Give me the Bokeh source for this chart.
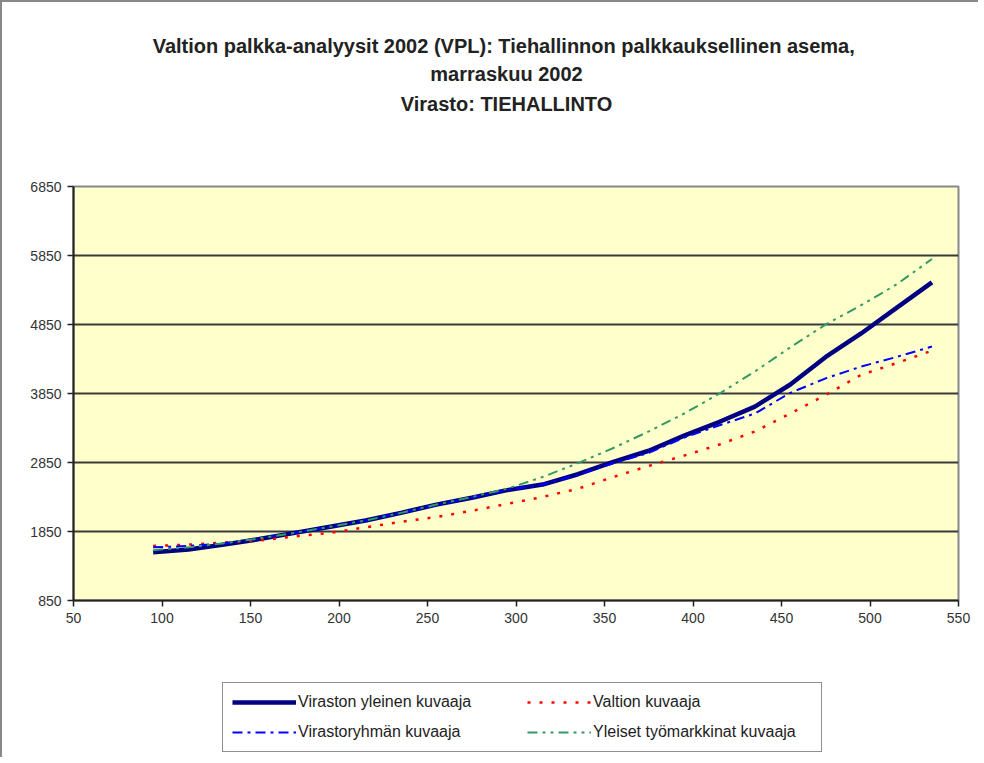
from bokeh.plotting import figure
from bokeh.models import Range1d, FixedTicker, Legend, LegendItem, Label
from bokeh.layouts import column
from bokeh.embed import file_html
from bokeh.resources import INLINE

# ---- data ----
x_vals = [95, 115, 135, 155, 175, 195, 215, 235, 255, 275, 295, 315,
          335, 355, 375, 395, 415, 435, 455, 475, 495, 515, 535]
viraston = [1550, 1590, 1660, 1740, 1830, 1920, 2010, 2120, 2240, 2340, 2450, 2530,
            2680, 2860, 3020, 3240, 3440, 3660, 3980, 4380, 4720, 5090, 5460]
valtion = [1640, 1660, 1690, 1720, 1780, 1830, 1910, 1990, 2060, 2150, 2250, 2350,
           2470, 2640, 2800, 2950, 3110, 3300, 3560, 3830, 4120, 4290, 4470]
virastoryhma = [1620, 1640, 1680, 1750, 1830, 1920, 2010, 2120, 2230, 2340, 2450, 2530,
                2670, 2840, 2990, 3210, 3390, 3560, 3860, 4070, 4240, 4380, 4530]
yleiset = [1580, 1620, 1680, 1750, 1830, 1920, 2010, 2120, 2240, 2350, 2470, 2640,
           2840, 3060, 3300, 3560, 3850, 4170, 4520, 4850, 5130, 5430, 5800]

x_ticks = [50, 100, 150, 200, 250, 300, 350, 400, 450, 500, 550]
y_ticks = [850, 1850, 2850, 3850, 4850, 5850, 6850]

title_lines = ["Valtion palkka-analyysit 2002 (VPL): Tiehallinnon  palkkauksellinen asema,",
               "marraskuu 2002",
               "Virasto: TIEHALLINTO"]
series_names = ["Viraston yleinen kuvaaja", "Valtion kuvaaja",
                "Virastoryhmän kuvaaja", "Yleiset työmarkkinat kuvaaja"]

FONT = "Liberation Sans"
W = 976

styles = {"navy": dict(line_color="#000080", line_width=4.5),
          "red": dict(line_color="#FF0000", line_width=2.5, line_dash="3 9"),
          "blue": dict(line_color="#0000FF", line_width=2, line_dash="10 5 3 5"),
          "green": dict(line_color="#339966", line_width=2, line_dash="10 5 3 5 3 5")}


def blank_fig(height, xr=(0, 1), yr=(0, 1)):
    f = figure(width=W, height=height, output_backend="svg", toolbar_location=None,
               x_range=Range1d(*xr), y_range=Range1d(*yr),
               x_axis_location=None, y_axis_location=None,
               min_border_left=71, min_border_right=20, min_border_top=0,
               min_border_bottom=0)
    f.xgrid.grid_line_color = None
    f.ygrid.grid_line_color = None
    f.outline_line_color = None
    f.background_fill_color = "white"
    f.border_fill_color = "white"
    return f


# ---- title area ----
pt = blank_fig(174)
for txt, yy in zip(title_lines, [131, 103, 73]):
    pt.add_layout(Label(x=433, y=yy, x_units="screen", y_units="screen", text=txt,
                        text_align="center", text_baseline="middle",
                        text_font=FONT, text_font_style="bold",
                        text_font_size="20px", text_color="#222222"))

# ---- main chart ----
p = figure(width=W, height=466, output_backend="svg", toolbar_location=None,
           x_range=Range1d(50, 550), y_range=Range1d(850, 6850),
           min_border_left=71, min_border_right=20, min_border_top=10,
           min_border_bottom=42)
p.background_fill_color = "#FFFFCC"
p.border_fill_color = "white"
p.outline_line_color = "#888888"
p.outline_line_width = 2

p.xgrid.grid_line_color = None
p.ygrid.grid_line_color = "#3a3a3a"
p.ygrid.grid_line_width = 2

p.xaxis.ticker = FixedTicker(ticks=x_ticks)
p.yaxis.ticker = FixedTicker(ticks=y_ticks)
for ax in (p.xaxis[0], p.yaxis[0]):
    ax.axis_line_color = "#222222"
    ax.axis_line_width = 2
    ax.major_tick_line_color = "#222222"
    ax.major_tick_line_width = 1.5
    ax.major_tick_out = 6
    ax.major_tick_in = 0
    ax.minor_tick_line_color = None
    ax.major_label_text_font = FONT
    ax.major_label_text_font_size = "14px"
    ax.major_label_text_color = "#333333"
p.xaxis.major_label_standoff = 6
p.yaxis.major_label_standoff = 6

p.line(x_vals, viraston, **styles["navy"])
p.line(x_vals, valtion, **styles["red"])
p.line(x_vals, virastoryhma, **styles["blue"])
p.line(x_vals, yleiset, **styles["green"])

# ---- legend area: key lines share the series' data and styles (they fall
# outside this strip's range, so only the legend keys are seen) ----
pl = blank_fig(115, xr=(0, 1), yr=(0, 1))
k1 = pl.line(x_vals, viraston, **styles["navy"])
k2 = pl.line(x_vals, valtion, **styles["red"])
k3 = pl.line(x_vals, virastoryhma, **styles["blue"])
k4 = pl.line(x_vals, yleiset, **styles["green"])
legend = Legend(items=[LegendItem(label=series_names[0], renderers=[k1]),
                       LegendItem(label=series_names[2], renderers=[k3]),
                       LegendItem(label=series_names[1], renderers=[k2]),
                       LegendItem(label=series_names[3], renderers=[k4])],
                location=(149, 5), nrows=2,
                border_line_color="#222222", border_line_width=1.5,
                background_fill_color="white", background_fill_alpha=1,
                label_text_font=FONT, label_text_font_size="16px",
                label_text_color="#222222",
                glyph_width=64, glyph_height=20, label_height=20,
                label_width=219, label_standoff=2, padding=9, spacing=10,
                margin=0)
pl.add_layout(legend, "center")

layout = column(pt, p, pl, spacing=0)
layout.styles = {"border-left": "2px solid #888", "border-top": "2px solid #888"}

open("out.html", "w").write(file_html(layout, INLINE))
